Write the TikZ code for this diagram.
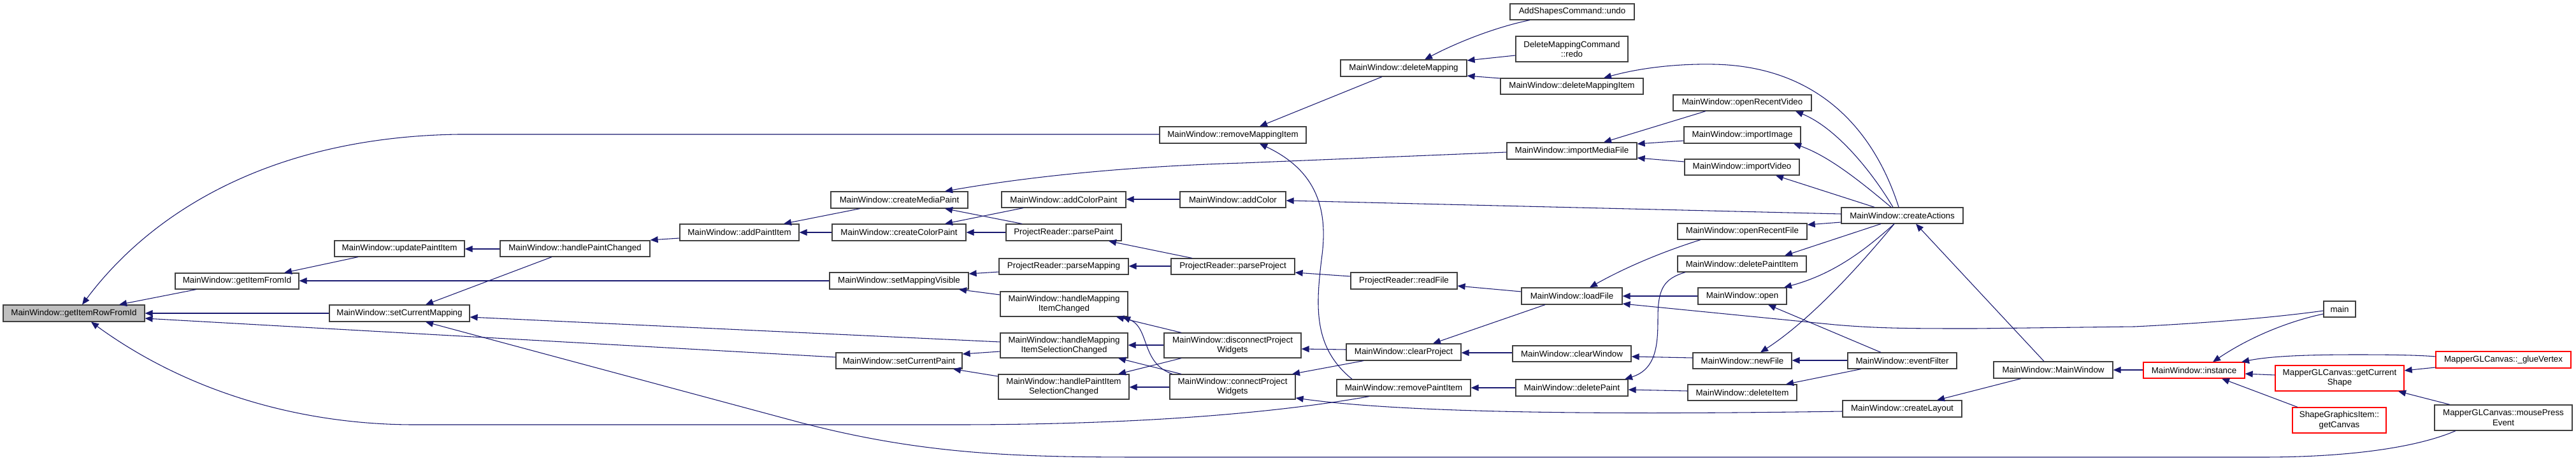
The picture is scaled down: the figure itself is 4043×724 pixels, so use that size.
\documentclass[tikz,border=0pt]{standalone}
\usepackage{fontspec}
\setmainfont{Liberation Sans}
\usetikzlibrary{arrows.meta}
\definecolor{mblue}{RGB}{25,25,112}
\definecolor{bord}{RGB}{64,64,64}
\definecolor{nodegray}{RGB}{191,191,191}
\newcommand\mkbox[7]{%
  \pgfmathsetmacro\mkw{(#4-#2)*0.75}%
  \pgfmathsetmacro\mkh{(#5-#3)*0.75}%
  \node[#6,minimum width=\mkw pt,minimum height=\mkh pt] (#1) at ({(#2+#4)/2},{(#3+#5)/2}) {#7};}
\begin{document}
\begin{tikzpicture}[x=0.75pt,y=-0.75pt,
  >={Triangle[length=9pt,width=7.5pt]},
  box/.style={draw=bord,line width=0.9pt,fill=white,inner sep=0pt,align=center,
    font=\fontsize{10}{11.5}\selectfont},
  gbox/.style={box,fill=nodegray},
  rbox/.style={box,draw=red},
  ed/.style={draw=mblue,line width=0.8pt,<-}]
\useasboundingbox (0,0) rectangle (4043,724);
\fill[white] (0,0) rectangle (4043,724);
% nodes
\mkbox{gir}{5}{479}{227}{505}{gbox}{MainWindow::getItemRowFromId}
\mkbox{gif}{275}{429}{469}{454}{box}{MainWindow::getItemFromId}
\mkbox{upi}{525}{378}{729}{403}{box}{MainWindow::updatePaintItem}
\mkbox{scm}{517}{479}{737}{505}{box}{MainWindow::setCurrentMapping}
\mkbox{hpc}{785}{378}{1020}{403}{box}{MainWindow::handlePaintChanged}
\mkbox{api}{1067}{352}{1254}{378}{box}{MainWindow::addPaintItem}
\mkbox{cmp}{1304}{301}{1519}{327}{box}{MainWindow::createMediaPaint}
\mkbox{ccp}{1306}{352}{1516}{378}{box}{MainWindow::createColorPaint}
\mkbox{smv}{1302}{428}{1520}{454}{box}{MainWindow::setMappingVisible}
\mkbox{scp}{1312}{554}{1510}{579}{box}{MainWindow::setCurrentPaint}
\mkbox{acp}{1572}{301}{1767}{326}{box}{MainWindow::addColorPaint}
\mkbox{ppt}{1579}{352}{1760}{378}{box}{ProjectReader::parsePaint}
\mkbox{pmp}{1568}{406}{1771}{431}{box}{ProjectReader::parseMapping}
\mkbox{hmic}{1570}{458}{1770}{497}{box}{MainWindow::handleMapping\\ItemChanged}
\mkbox{hmisc}{1570}{523}{1770}{562}{box}{MainWindow::handleMapping\\ItemSelectionChanged}
\mkbox{hpisc}{1567}{588}{1772}{627}{box}{MainWindow::handlePaintItem\\SelectionChanged}
\mkbox{rmi}{1820}{199}{2050}{225}{box}{MainWindow::removeMappingItem}
\mkbox{ac}{1852}{301}{2018}{326}{box}{MainWindow::addColor}
\mkbox{ppj}{1838}{406}{2032}{431}{box}{ProjectReader::parseProject}
\mkbox{dpw}{1827}{523}{2042}{562}{box}{MainWindow::disconnectProject\\Widgets}
\mkbox{cpw}{1836}{588}{2033}{627}{box}{MainWindow::connectProject\\Widgets}
\mkbox{dm}{2104}{94}{2302}{120}{box}{MainWindow::deleteMapping}
\mkbox{rf}{2120}{428}{2287}{454}{box}{ProjectReader::readFile}
\mkbox{cp}{2113}{540}{2293}{566}{box}{MainWindow::clearProject}
\mkbox{rpi}{2098}{596}{2308}{622}{box}{MainWindow::removePaintItem}
\mkbox{asu}{2370}{6}{2565}{31}{box}{AddShapesCommand::undo}
\mkbox{dmr}{2379}{57}{2555}{97}{box}{DeleteMappingCommand\\::redo}
\mkbox{dmi}{2355}{123}{2579}{148}{box}{MainWindow::deleteMappingItem}
\mkbox{imf}{2365}{224}{2569}{250}{box}{MainWindow::importMediaFile}
\mkbox{lf}{2388}{452}{2546}{478}{box}{MainWindow::loadFile}
\mkbox{cw}{2374}{543}{2560}{568}{box}{MainWindow::clearWindow}
\mkbox{dp}{2379}{596}{2555}{622}{box}{MainWindow::deletePaint}
\mkbox{orv}{2626}{149}{2843}{174}{box}{MainWindow::openRecentVideo}
\mkbox{ii}{2643}{199}{2826}{225}{box}{MainWindow::importImage}
\mkbox{iv}{2644}{250}{2824}{275}{box}{MainWindow::importVideo}
\mkbox{orf}{2633}{351}{2836}{376}{box}{MainWindow::openRecentFile}
\mkbox{dpi}{2633}{402}{2835}{427}{box}{MainWindow::deletePaintItem}
\mkbox{op}{2665}{452}{2804}{478}{box}{MainWindow::open}
\mkbox{nf}{2657}{554}{2812}{579}{box}{MainWindow::newFile}
\mkbox{di}{2649}{604}{2820}{629}{box}{MainWindow::deleteItem}
\mkbox{ca}{2890}{326}{3081}{351}{box}{MainWindow::createActions}
\mkbox{ef}{2900}{554}{3071}{579}{box}{MainWindow::eventFilter}
\mkbox{cl}{2892}{629}{3079}{655}{box}{MainWindow::createLayout}
\mkbox{mw}{3129}{568}{3316}{594}{box}{MainWindow::MainWindow}
\mkbox{inst}{3364}{569}{3523}{594}{rbox}{MainWindow::instance}
\mkbox{mn}{3647}{473}{3697}{498}{box}{main}
\mkbox{gcs}{3571}{574}{3773}{614}{rbox}{MapperGLCanvas::getCurrent\\Shape}
\mkbox{gc}{3598}{640}{3745}{680}{rbox}{ShapeGraphicsItem::\\getCanvas}
\mkbox{gv}{3823}{552}{4035}{578}{rbox}{MapperGLCanvas::\_glueVertex}
\mkbox{mpe}{3821}{636}{4037}{676}{box}{MapperGLCanvas::mousePress\\Event}
% curved edges
\draw[ed] (gir.north -| 129,0) .. controls (240,330) and (430,215) .. (720,211) -- (rmi.west |- 0,211);
\draw[ed] (gir.south -| 143,0) .. controls (300,620) and (480,667) .. (650,667) -- (1500,667) .. controls (1850,667) and (2050,640) .. (rpi.south -| 2149,0);
\draw[ed] (scm.south -| 668,0) -- (1250,662) .. controls (1450,715) and (1600,718) .. (1800,718) -- (3550,718) .. controls (3700,718) and (3800,700) .. (mpe.south -| 3854,0);
\draw[ed] (cmp.north -| 1483,0) .. controls (1600,280) and (1750,262) .. (1950,256) -- (imf.west |- 0,239);
\draw[ed] (hmic.south -| 1762,0) .. controls (1805,515) and (1790,570) .. (cpw.north -| 1840,0);
\draw[ed] (rmi.south -| 1977,0) .. controls (2060,265) and (2085,320) .. (2075,400) .. controls (2065,480) and (2060,545) .. (rpi.north -| 2122,0);
\draw[ed] (cpw.east |- 0,625) .. controls (2200,648) and (2500,652) .. (cl.west |- 0,646);
\draw[ed] (dm.north -| 2236,0) .. controls (2290,65) and (2350,42) .. (asu.south -| 2401,0);
\draw[ed] (dmi.north -| 2517,0) .. controls (2580,105) and (2640,100) .. (2690,101) .. controls (2850,104) and (2940,200) .. (ca.north -| 2980,0);
\draw[ed] (lf.north -| 2495,0) .. controls (2560,415) and (2620,392) .. (orf.south -| 2669,0);
\draw[ed] (lf.east |- 0,477) -- (2880,510) .. controls (2950,516) and (3000,516) .. (3100,516) -- (3350,513) .. controls (3450,508) and (3560,500) .. (mn.west |- 0,488);
\draw[ed] (dp.north -| 2550,0) .. controls (2600,580) and (2602,540) .. (2602,500) .. controls (2602,455) and (2610,438) .. (dpi.south -| 2645,0);
\draw[ed] (orv.south -| 2818,0) .. controls (2880,200) and (2935,265) .. (ca.north -| 2971,0);
\draw[ed] (ii.south -| 2815,0) .. controls (2870,245) and (2920,285) .. (ca.north -| 2968,0);
\draw[ed] (op.north -| 2800,0) .. controls (2880,430) and (2930,390) .. (ca.south -| 2973,0);
\draw[ed] (nf.north -| 2763,0) .. controls (2830,510) and (2900,440) .. (ca.south -| 2973,0);
\draw[ed] (inst.north -| 3473,0) .. controls (3530,530) and (3590,505) .. (mn.west |- 0,493);
\draw[ed] (inst.north -| 3518,0) .. controls (3560,560) and (3610,557) .. (3700,557) .. controls (3760,557) and (3800,558) .. (gv.west |- 0,560);
% straight edges
\draw[ed] (gir.north -| 187,0) -- (gif.south -| 308,0);
\draw[ed] (gif.north -| 446,0) -- (upi.south -| 562,0);
\draw[ed] (gif.east |- 0,441) -- (smv.west |- 0,441);
\draw[ed] (gir.east |- 0,492) -- (scm.west |- 0,492);
\draw[ed] (gir.east |- 0,500) -- (scp.west |- 0,561);
\draw[ed] (upi.east |- 0,391) -- (hpc.west |- 0,391);
\draw[ed] (scm.north -| 668,0) -- (hpc.south -| 866,0);
\draw[ed] (scm.east |- 0,498) -- (hmisc.west |- 0,537);
\draw[ed] (hpc.east |- 0,377) -- (api.west |- 0,374);
\draw[ed] (api.north -| 1230,0) -- (cmp.south -| 1350,0);
\draw[ed] (api.east |- 0,365) -- (ccp.west |- 0,365);
\draw[ed] (cmp.south -| 1483,0) -- (ppt.north -| 1604,0);
\draw[ed] (ccp.north -| 1483,0) -- (acp.south -| 1606,0);
\draw[ed] (ccp.east |- 0,365) -- (ppt.west |- 0,365);
\draw[ed] (acp.east |- 0,313) -- (ac.west |- 0,313);
\draw[ed] (ppt.south -| 1740,0) -- (ppj.north -| 1871,0);
\draw[ed] (pmp.east |- 0,418) -- (ppj.west |- 0,418);
\draw[ed] (smv.east |- 0,430) -- (pmp.west |- 0,427);
\draw[ed] (smv.south -| 1505,0) -- (hmic.west |- 0,463);
\draw[ed] (hmic.south -| 1752,0) -- (dpw.north -| 1854,0);
\draw[ed] (hmisc.east |- 0,542) -- (dpw.west |- 0,542);
\draw[ed] (hmisc.south -| 1755,0) -- (cpw.north -| 1854,0);
\draw[ed] (hpisc.north -| 1755,0) -- (dpw.south -| 1854,0);
\draw[ed] (hpisc.east |- 0,608) -- (cpw.west |- 0,608);
\draw[ed] (scp.east |- 0,556) -- (hmisc.west |- 0,552);
\draw[ed] (scp.south -| 1496,0) -- (hpisc.west |- 0,591);
\draw[ed] (rmi.north -| 1977,0) -- (dm.south -| 2169,0);
\draw[ed] (ac.east |- 0,315) -- (ca.west |- 0,336);
\draw[ed] (ppj.east |- 0,428) -- (rf.west |- 0,434);
\draw[ed] (rf.east |- 0,449) -- (lf.west |- 0,458);
\draw[ed] (dpw.east |- 0,548) -- (cp.west |- 0,549);
\draw[ed] (cpw.north -| 2028,0) -- (cp.south -| 2140,0);
\draw[ed] (dm.east |- 0,95) -- (dmr.west |- 0,87);
\draw[ed] (dm.east |- 0,119) -- (dmi.west |- 0,123);
\draw[ed] (imf.north -| 2517,0) -- (orv.south -| 2677,0);
\draw[ed] (imf.east |- 0,226) -- (ii.west |- 0,221);
\draw[ed] (imf.east |- 0,248) -- (iv.west |- 0,254);
\draw[ed] (lf.east |- 0,465) -- (op.west |- 0,465);
\draw[ed] (cp.north -| 2249,0) -- (lf.south -| 2425,0);
\draw[ed] (cp.east |- 0,554) -- (cw.west |- 0,554);
\draw[ed] (cw.east |- 0,560) -- (nf.west |- 0,562);
\draw[ed] (rpi.east |- 0,609) -- (dp.west |- 0,609);
\draw[ed] (dp.east |- 0,612) -- (di.west |- 0,614);
\draw[ed] (iv.south -| 2787,0) -- (ca.north -| 2942,0);
\draw[ed] (orf.east |- 0,353) -- (ca.west |- 0,349);
\draw[ed] (dpi.north -| 2801,0) -- (ca.south -| 2952,0);
\draw[ed] (ca.south -| 3007,0) -- (mw.north -| 3208,0);
\draw[ed] (op.south -| 2775,0) -- (ef.north -| 2952,0);
\draw[ed] (nf.east |- 0,566) -- (ef.west |- 0,566);
\draw[ed] (di.north -| 2803,0) -- (ef.south -| 2921,0);
\draw[ed] (cl.north -| 3040,0) -- (mw.south -| 3172,0);
\draw[ed] (mw.east |- 0,581) -- (inst.west |- 0,581);
\draw[ed] (inst.east |- 0,587) -- (gcs.west |- 0,589);
\draw[ed] (inst.south -| 3487,0) -- (gc.north -| 3606,0);
\draw[ed] (gcs.east |- 0,582) -- (gv.west |- 0,577);
\draw[ed] (gcs.south -| 3764,0) -- (mpe.north -| 3845,0);
\end{tikzpicture}
\end{document}
